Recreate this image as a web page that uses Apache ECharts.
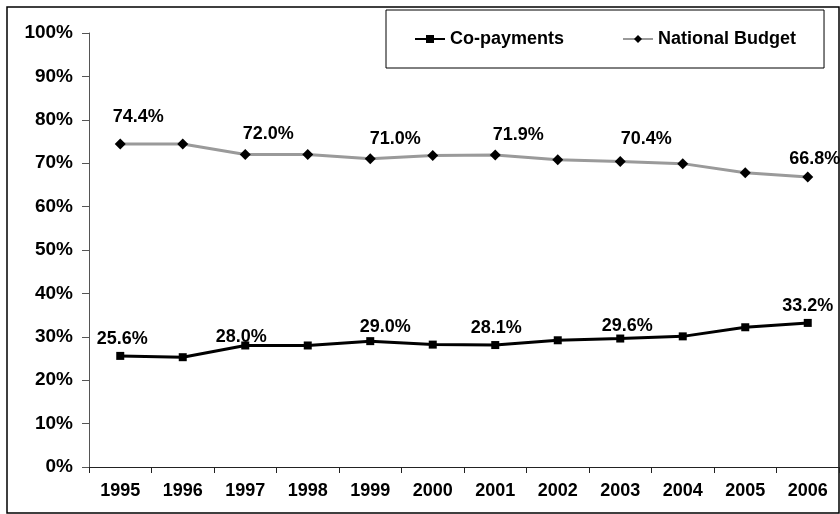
<!DOCTYPE html>
<html>
<head>
<meta charset="utf-8">
<script src="https://cdn.jsdelivr.net/npm/echarts@6/dist/echarts.min.js"></script>
<style>
	html, body { margin: 0; padding: 0; background: #fff; }
	#chart { width: 840px; height: 514px; }
</style>
</head>
<body>
<div id="chart"></div>
<script>
var years = ['1995', '1996', '1997', '1998', '1999', '2000', '2001', '2002', '2003', '2004', '2005', '2006'];
var coPayments = [25.6, 25.3, 28.0, 28.0, 29.0, 28.2, 28.1, 29.2, 29.6, 30.1, 32.2, 33.2];
var nationalBudget = [74.4, 74.4, 72.0, 72.0, 71.0, 71.8, 71.9, 70.8, 70.4, 69.9, 67.8, 66.8];
var yTicks = [0, 10, 20, 30, 40, 50, 60, 70, 80, 90, 100];

// which points carry a value label, and where the label sits relative to the marker
var labelled = [0, 2, 4, 6, 8, 11];
var cpShift = [[2, -17], [-4, -8], [15, -14], [1, -17], [7, -13], [0, -17]];
var nbShift = [[18, -27], [23, -20], [25, -20], [23, -20], [26, -22], [7, -18]];

var FONT = '"Liberation Sans", Arial, sans-serif';

function points(values, shifts){
	return values.map(function(v, i){
		var k = labelled.indexOf(i);
		var item = { value: v };
		if(k >= 0){
			item.label = { show: true, offset: shifts[k] };
		}
		return item;
	});
}

var chart = echarts.init(document.getElementById('chart'));
chart.setOption({
	animation: false,
	backgroundColor: '#fff',
	textStyle: { fontFamily: FONT },
	grid: { left: 89, right: 1, top: 33, bottom: 47, containLabel: false },
	graphic: [{
		type: 'rect',
		shape: { x: 7, y: 7, width: 832, height: 506 },
		style: { fill: 'none', stroke: '#000', lineWidth: 1.5 },
		z: -1
	}],
	legend: {
		left: 386,
		top: 10,
		padding: [20, 28],
		itemGap: 58,
		itemWidth: 30,
		itemHeight: 10,
		borderColor: '#000',
		borderWidth: 1,
		textStyle: { fontFamily: FONT, fontWeight: 'bold', fontSize: 18, color: '#000', padding: [0, 0, 0, 0] },
		data: ['Co-payments', 'National Budget']
	},
	xAxis: {
		type: 'category',
		data: years,
		boundaryGap: true,
		axisLine: { lineStyle: { color: '#222', width: 1 } },
		axisTick: { show: true, alignWithLabel: false, interval: 0, length: 6, lineStyle: { color: '#222' } },
		axisLabel: { interval: 0, margin: 15, fontFamily: FONT, fontWeight: 'bold', fontSize: 18, color: '#000' },
		splitLine: { show: false }
	},
	yAxis: {
		type: 'value',
		min: yTicks[0],
		max: yTicks[yTicks.length - 1],
		interval: 10,
		axisLine: { show: true, lineStyle: { color: '#555', width: 1 } },
		axisTick: { show: true, length: 7, lineStyle: { color: '#555' } },
		axisLabel: {
			margin: 16,
			fontFamily: FONT, fontWeight: 'bold', fontSize: 19, color: '#000',
			formatter: function(v){ return v + '%'; }
		},
		splitLine: { show: false }
	},
	series: [{
		name: 'Co-payments',
		type: 'line',
		data: points(coPayments, cpShift),
		symbol: 'rect',
		symbolSize: 8,
		showAllSymbol: true,
		itemStyle: { color: '#000' },
		lineStyle: { color: '#000', width: 3 },
		label: {
			show: false,
			position: 'inside',
			fontFamily: FONT, fontWeight: 'bold', fontSize: 18, color: '#000',
			formatter: function(p){ return p.value.toFixed(1) + '%'; }
		}
	}, {
		name: 'National Budget',
		type: 'line',
		data: points(nationalBudget, nbShift),
		symbol: 'diamond',
		symbolSize: 11,
		showAllSymbol: true,
		itemStyle: { color: '#000' },
		lineStyle: { color: '#9a9a9a', width: 3 },
		label: {
			show: false,
			position: 'inside',
			fontFamily: FONT, fontWeight: 'bold', fontSize: 18, color: '#000',
			formatter: function(p){ return p.value.toFixed(1) + '%'; }
		}
	}]
});
</script>
</body>
</html>
